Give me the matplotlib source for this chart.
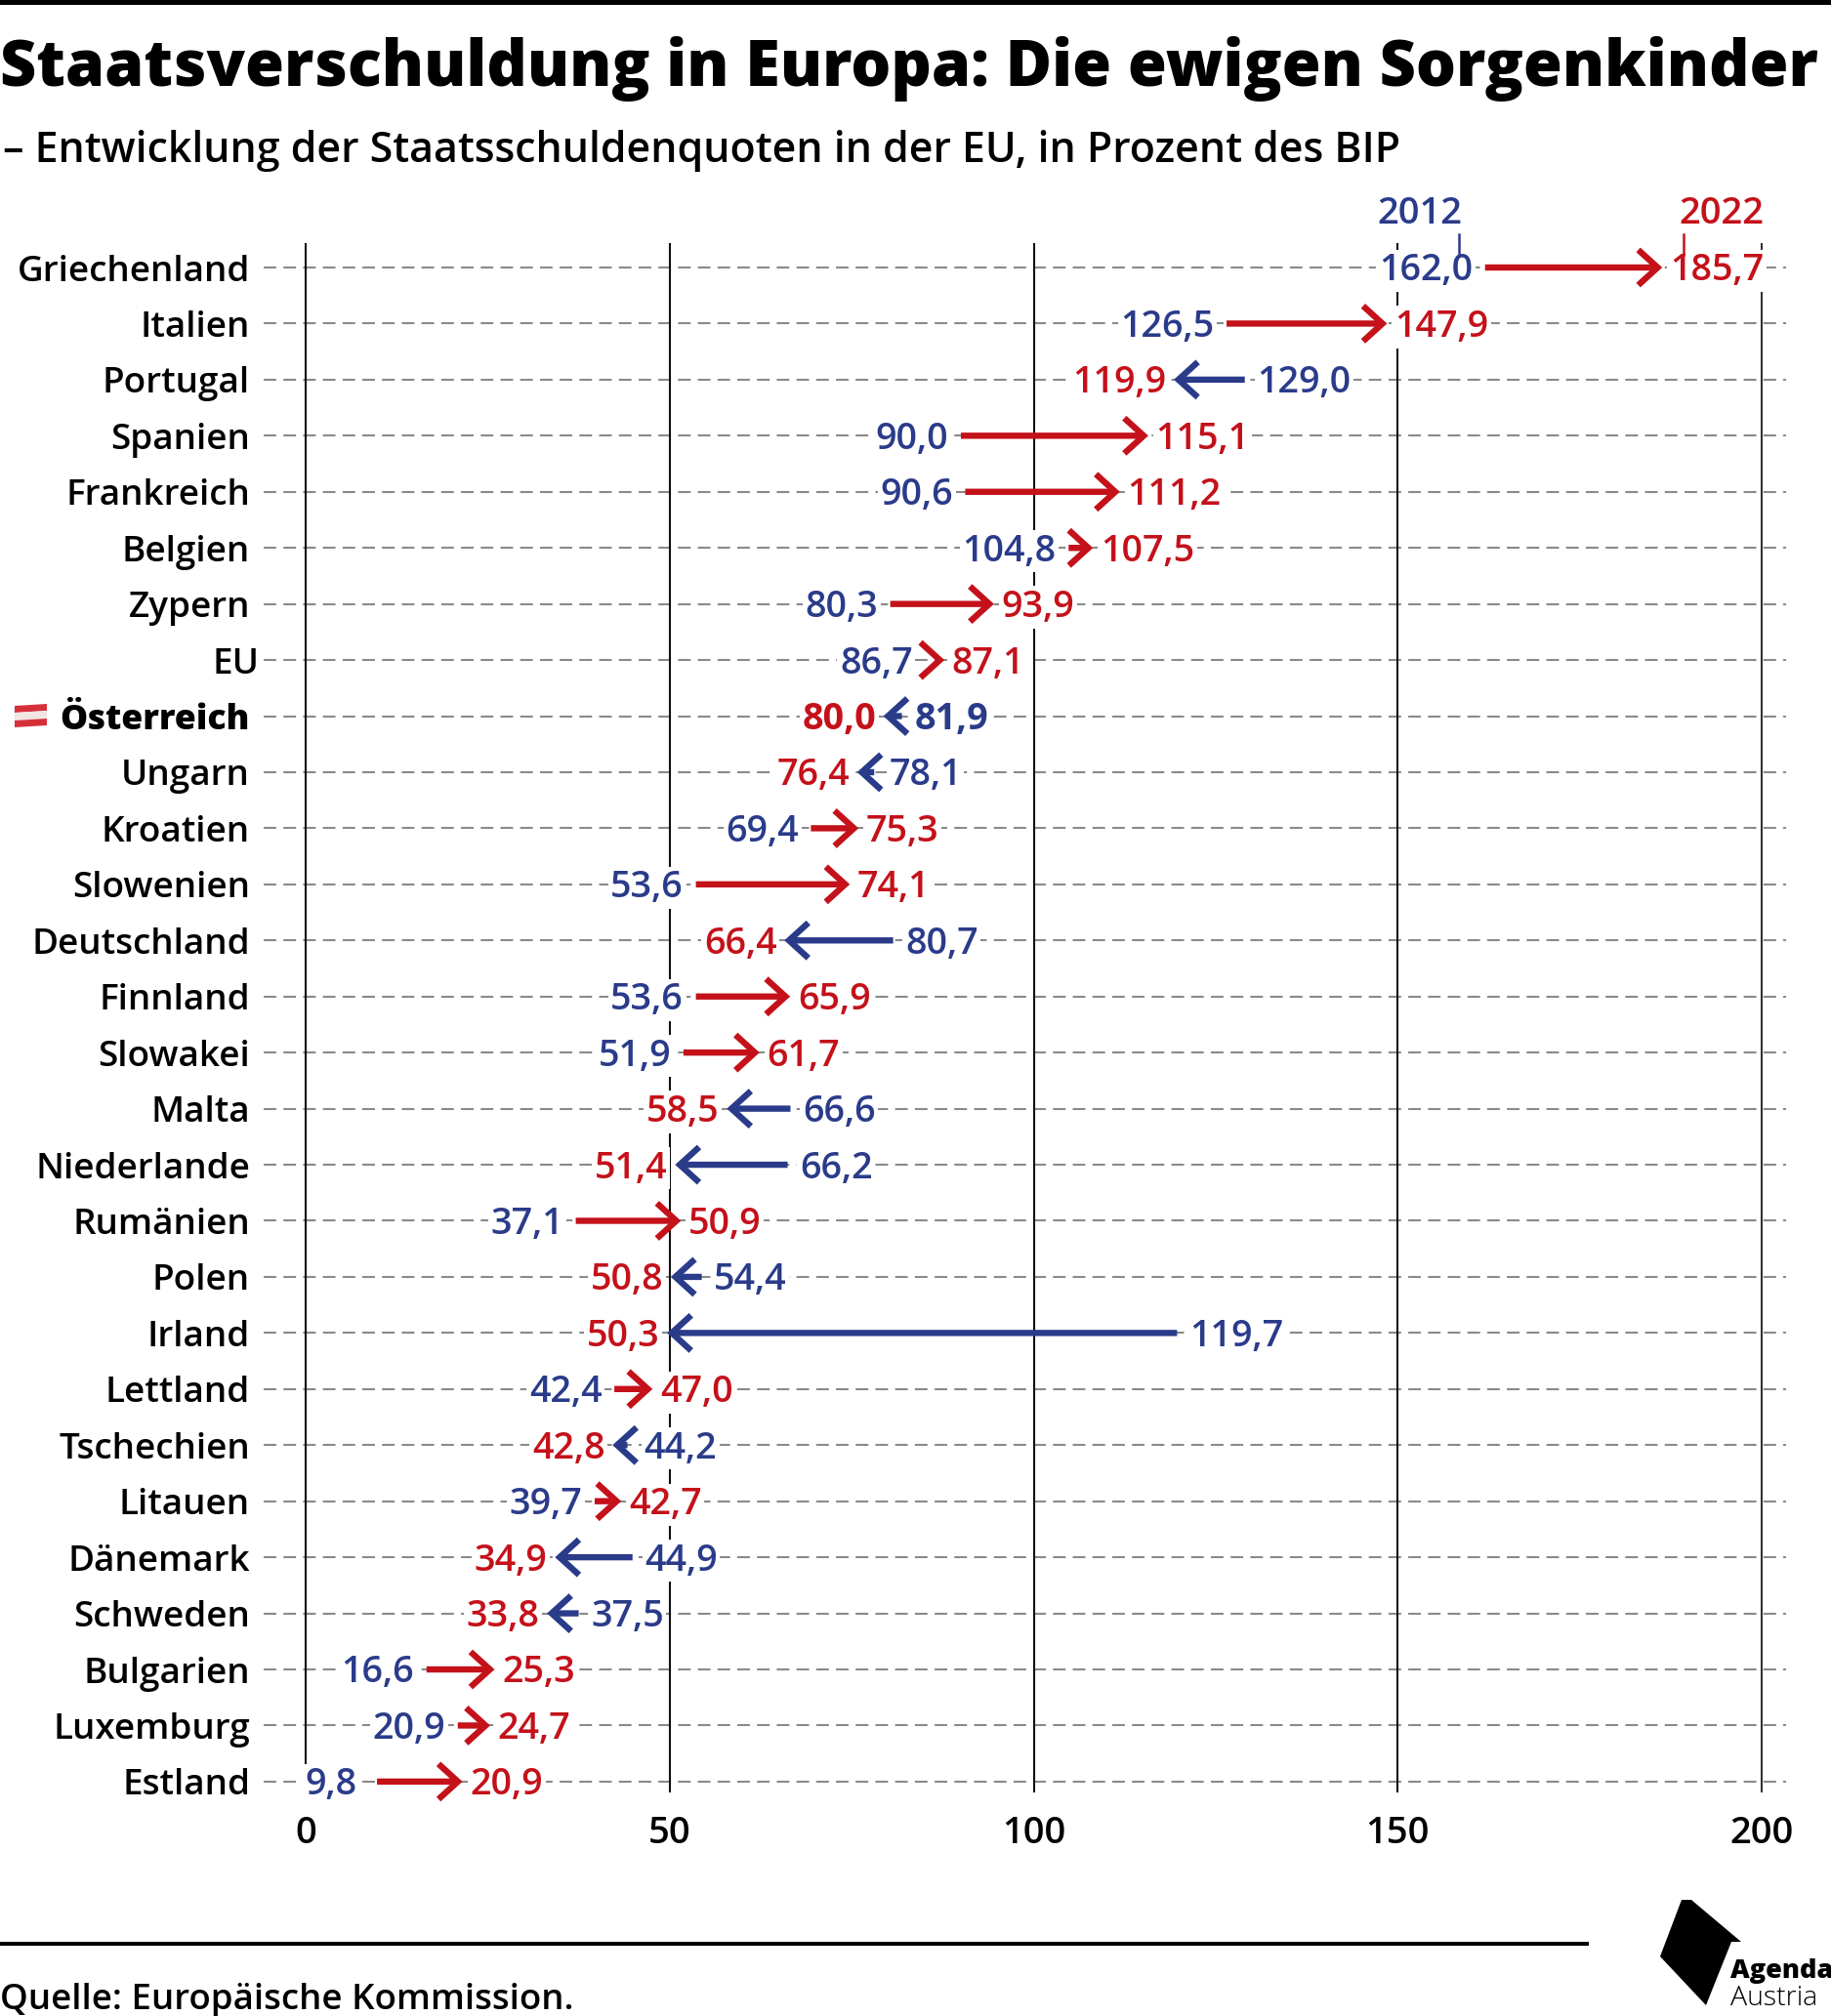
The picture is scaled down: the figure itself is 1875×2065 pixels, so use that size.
#!/usr/bin/env python3
import matplotlib
matplotlib.use('Agg')
import matplotlib.pyplot as plt
from matplotlib.patches import Polygon, Rectangle
from matplotlib.transforms import ScaledTranslation

W, H = 1875, 2065
BLUE = '#2a3b8a'
RED = '#c4111a'
GREY = '#8a8a8a'
FONT = 'Open Sans'
FS_VAL = 27.2
FS_LAB = 26.6

countries = ['Griechenland', 'Italien', 'Portugal', 'Spanien', 'Frankreich', 'Belgien', 'Zypern', 'EU',
             'Österreich', 'Ungarn', 'Kroatien', 'Slowenien', 'Deutschland', 'Finnland', 'Slowakei', 'Malta',
             'Niederlande', 'Rumänien', 'Polen', 'Irland', 'Lettland', 'Tschechien', 'Litauen', 'Dänemark',
             'Schweden', 'Bulgarien', 'Luxemburg', 'Estland']
v2012 = [162.0, 126.5, 129.0, 90.0, 90.6, 104.8, 80.3, 86.7, 81.9, 78.1, 69.4, 53.6, 80.7, 53.6, 51.9, 66.6,
         66.2, 37.1, 54.4, 119.7, 42.4, 44.2, 39.7, 44.9, 37.5, 16.6, 20.9, 9.8]
v2022 = [185.7, 147.9, 119.9, 115.1, 111.2, 107.5, 93.9, 87.1, 80.0, 76.4, 75.3, 74.1, 66.4, 65.9, 61.7, 58.5,
         51.4, 50.9, 50.8, 50.3, 47.0, 42.8, 42.7, 34.9, 33.8, 25.3, 24.7, 20.9]
xticks = [0, 50, 100, 150, 200]

plt.rcParams['font.family'] = [FONT, 'DejaVu Sans']

fig = plt.figure(figsize=(W / 100, H / 100), dpi=100)
# pixel positions of the plot frame in the reference
x0, x1 = 313, 1804
y_top, y_bot = 250, 1835
row0, row_h = 274, 57.44
ax = fig.add_axes([x0 / W, 1 - y_bot / H, (x1 - x0) / W, (y_bot - y_top) / H])
ax.set_xlim(0, 200)
ax.set_ylim((y_bot - row0) / row_h, (y_top - row0) / row_h)
for s in ax.spines.values():
    s.set_visible(False)


def px_fig(x, y):
    return x / W, 1 - y / H


def ftext(x, y, s, **kw):
    fx, fy = px_fig(x, y)
    return fig.text(fx, fy, s, **kw)


# grid
rows = list(range(len(countries)))
for i in rows:
    ax.plot([-5.8, 203.4], [i, i], color=GREY, lw=1.5, ls=(0, (6.2, 3.5)), clip_on=False, zorder=1)
for t in xticks:
    ax.axvline(t, color='#111111' if t < 200 else '#333333', lw=1.5, zorder=1, clip_on=False)

# arrows and value labels
TIP_PAD = 0.65   # chevron tip runs a little past the value
HEAD = 2.03      # start label has to clear the chevron on short arrows
for i, (a, b) in enumerate(zip(v2012, v2022)):
    sign = 1 if b > a else -1
    col = RED if b > a else BLUE
    ax.annotate('', xy=(b + sign * TIP_PAD, i), xytext=(a, i), zorder=4,
                arrowprops=dict(arrowstyle='->,head_length=0.55,head_width=0.5', color=col, lw=4.6,
                                shrinkA=0, shrinkB=0, mutation_scale=26, capstyle='butt', joinstyle='miter'))
    weight = 'bold' if countries[i] == 'Österreich' else 600
    box = dict(facecolor='white', edgecolor='none', pad=2)
    anchor = min(a, b - HEAD) if sign > 0 else max(a, b + HEAD)
    gap = 15 if countries[i] == 'Estland' else 9
    ax.annotate(f'{a:.1f}'.replace('.', ','), (anchor, i), xytext=(-sign * gap, -2.5), textcoords='offset points',
                ha='right' if sign > 0 else 'left', va='center', color=BLUE, fontsize=FS_VAL, fontweight=weight,
                bbox=box, zorder=3)
    ax.annotate(f'{b:.1f}'.replace('.', ','), (b, i), xytext=(sign * 9, -2.5), textcoords='offset points',
                ha='left' if sign > 0 else 'right', va='center', color=RED, fontsize=FS_VAL, fontweight=weight,
                bbox=box, zorder=3)

# axes labels
ax.set_xticks(xticks)
ax.set_xticklabels(xticks, fontsize=27.5, fontweight=600)
ax.tick_params(axis='x', length=0, pad=17)
ax.set_yticks(rows)
ax.set_yticklabels(countries, fontsize=FS_LAB, fontweight=600)
ax.tick_params(axis='y', length=0, pad=41)
for lab in ax.get_yticklabels():
    if lab.get_text() == 'Österreich':
        lab.set_fontweight(800)
        lab.set_fontsize(25.6)
    if lab.get_text() == 'EU':
        lab.set_transform(lab.get_transform() + ScaledTranslation(9 / 100, 0, fig.dpi_scale_trans))

# year keys
ftext(1497, 219, '2012', color=BLUE, fontsize=27.5, fontweight=600, ha='right', va='center')
ftext(1719, 219, '2022', color=RED, fontsize=27.5, fontweight=600, ha='left', va='center')
fig.add_artist(plt.Line2D([1494 / W] * 2, [1 - 240 / H, 1 - 261 / H], color=BLUE, lw=1.8))
fig.add_artist(plt.Line2D([1724 / W] * 2, [1 - 240 / H, 1 - 261 / H], color=RED, lw=1.8))

# flag
flag = [(15, 723, 48, 721, 48, 728, 15, 730, '#d5303a'),
        (15, 730, 48, 728, 48, 736, 15, 738, '#f3e4e4'),
        (15, 738, 48, 736, 48, 743, 15, 745, '#d5303a')]
for f in flag:
    pts = [px_fig(f[k], f[k + 1]) for k in (0, 2, 4, 6)]
    fig.add_artist(Polygon(pts, closed=True, transform=fig.transFigure, facecolor=f[8], edgecolor='none'))

# header
fig.add_artist(Rectangle((0, 1 - 5 / H), 1, 5 / H, transform=fig.transFigure, facecolor='black', edgecolor='none'))
ftext(0, 71, 'Staatsverschuldung in Europa: Die ewigen Sorgenkinder', fontsize=46.55, fontweight=800,
      ha='left', va='center')
ftext(3, 155, '– Entwicklung der Staatsschuldenquoten in der EU, in Prozent des BIP', fontsize=30.9,
      fontweight=600, ha='left', va='center')

# footer
fig.add_artist(Rectangle((0, 1 - 1993 / H), 1627 / W, 4 / H, transform=fig.transFigure, facecolor='black',
                         edgecolor='none'))
ftext(0, 2049, 'Quelle: Europäische Kommission.', fontsize=26.4, fontweight=600, ha='left', va='center')
logo = [(1722, 1946), (1732, 1946), (1783, 1989), (1773, 1989), (1747, 2054), (1700, 2004)]
fig.add_artist(Polygon([px_fig(*p) for p in logo], closed=True, transform=fig.transFigure, facecolor='black',
                       edgecolor='none'))
ftext(1772, 2026, 'Agenda', fontsize=19.5, fontweight=800, ha='left', va='baseline')
ftext(1772, 2054, 'Austria', fontsize=20.5, fontweight='light', ha='left', va='baseline')

fig.savefig('out.png', dpi=100)
